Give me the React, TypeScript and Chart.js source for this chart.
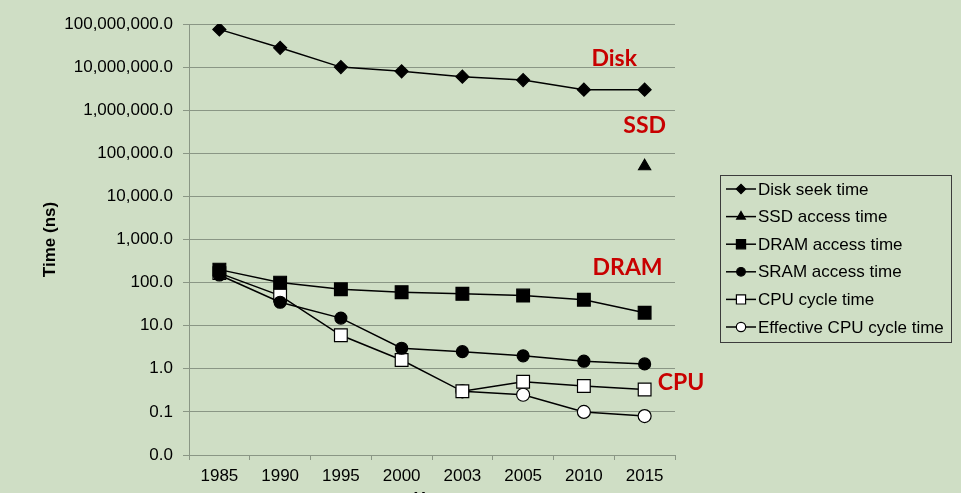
import React, { useEffect, useRef } from 'react';
import { Chart, registerables } from 'chart.js';

Chart.register(...registerables);

const years = ['1985', '1990', '1995', '2000', '2003', '2005', '2010', '2015'];
const diskSeek = [75000000, 28000000, 10000000, 8000000, 6000000, 5000000, 3000000, 3000000];
const ssdAccess = [null, null, null, null, null, null, null, 50000];
const dramAccess = [200, 100, 70, 60, 55, 50, 40, 20];
const sramAccess = [150, 35, 15, 3, 2.5, 2, 1.5, 1.3];
const cpuCycle = [166, 50, 6, 1.6, 0.3, 0.5, 0.4, 0.33];
const effCpuCycle = [null, null, null, null, 0.3, 0.25, 0.1, 0.08];
const yTicks = [0.01, 0.1, 1, 10, 100, 1000, 10000, 100000, 1000000, 10000000, 100000000];
const seriesNames = [
  'Disk seek time',
  'SSD access time',
  'DRAM access time',
  'SRAM access time',
  'CPU cycle time',
  'Effective CPU cycle time',
];
const annotationTexts = ['Disk', 'SSD', 'DRAM', 'CPU'];
const annotationX = [6.5, 7, 6.72, 7.6];
const annotationY = [16000000, 450000, 218, 0.47];

const BG = '#cfdec5';
const GRID = '#8a9685';
const FONT = '"Liberation Sans", Arial, sans-serif';
const RED = '#c80000';

function fmt(v: number): string {
  return Number(v).toLocaleString('en-US', { minimumFractionDigits: 1, maximumFractionDigits: 1 });
}

function drawMarker(ctx: CanvasRenderingContext2D, style: string, x: number, y: number, r: number, fill: string) {
  ctx.beginPath();
  if (style === 'rectRot') {
    ctx.moveTo(x - r, y);
    ctx.lineTo(x, y - r);
    ctx.lineTo(x + r, y);
    ctx.lineTo(x, y + r);
    ctx.closePath();
  } else if (style === 'triangle') {
    for (let i = 0; i < 3; i++) {
      const a = (i * 2 * Math.PI) / 3;
      const px = x + Math.sin(a) * r;
      const py = y - Math.cos(a) * r;
      if (i === 0) ctx.moveTo(px, py);
      else ctx.lineTo(px, py);
    }
    ctx.closePath();
  } else if (style === 'rect') {
    const s = Math.SQRT1_2 * r;
    ctx.rect(x - s, y - s, 2 * s, 2 * s);
  } else {
    ctx.arc(x, y, r, 0, Math.PI * 2);
  }
  ctx.fillStyle = fill;
  ctx.fill();
  ctx.lineWidth = 1.2;
  ctx.strokeStyle = '#000';
  ctx.stroke();
}

const decor = {
  id: 'decor',
  afterDraw(chart: any) {
    const { ctx, chartArea, scales } = chart;
    // Y title
    ctx.save();
    ctx.font = `bold 17px ${FONT}`;
    ctx.fillStyle = '#000';
    ctx.textAlign = 'center';
    ctx.textBaseline = 'middle';
    ctx.translate(50, (chartArea.top + chartArea.bottom) / 2);
    ctx.rotate(-Math.PI / 2);
    ctx.fillText('Time (ns)', 0, 0);
    ctx.restore();

    // X title (partially cut off at the bottom)
    ctx.save();
    ctx.font = `bold 17px ${FONT}`;
    ctx.fillStyle = '#000';
    ctx.textAlign = 'center';
    ctx.textBaseline = 'top';
    ctx.fillText('Year', (chartArea.left + chartArea.right) / 2, 491);
    ctx.restore();

    // Annotations
    ctx.save();
    ctx.font = `bold 23px Lato, "Open Sans", sans-serif`;
    ctx.fillStyle = RED;
    ctx.textAlign = 'center';
    ctx.textBaseline = 'middle';
    annotationTexts.forEach((t, i) => {
      const x = scales.x.getPixelForValue(annotationX[i]);
      const y = scales.y.getPixelForValue(annotationY[i]);
      ctx.fillText(t, x, y);
    });
    ctx.restore();

    // Legend
    ctx.save();
    const lx = 720, ly = 175, lw = 231, lh = 167;
    ctx.strokeStyle = '#3c3c3c';
    ctx.lineWidth = 1;
    ctx.strokeRect(lx + 0.5, ly + 0.5, lw, lh);
    ctx.font = `17px ${FONT}`;
    ctx.textAlign = 'left';
    ctx.textBaseline = 'middle';
    chart.data.datasets.forEach((ds: any, i: number) => {
      const y = ly + 14 + i * 27.6;
      ctx.beginPath();
      ctx.moveTo(726, y);
      ctx.lineTo(756, y);
      ctx.strokeStyle = '#000';
      ctx.lineWidth = 1.5;
      ctx.stroke();
      drawMarker(ctx, ds.pointStyle, 741, y, ds.pointRadius * 0.72, ds.pointBackgroundColor);
      ctx.fillStyle = '#000';
      ctx.fillText(ds.label, 758, y + 1);
    });
    ctx.restore();
  },
};

export default function App() {
  const ref = useRef<HTMLCanvasElement>(null);
  useEffect(() => {
    document.body.style.margin = '0';
    document.body.style.background = BG;
    document.body.style.overflow = 'hidden';
    const mk = (label: string, data: any[], style: string, r: number, fill: string) => ({
      label,
      data,
      borderColor: '#000',
      borderWidth: 1.5,
      pointStyle: style,
      pointRadius: r,
      pointBackgroundColor: fill,
      pointBorderColor: '#000',
      pointBorderWidth: 1.2,
      fill: false,
      tension: 0,
    });
    const chart = new Chart(ref.current!, {
      type: 'line',
      data: {
        labels: years,
        datasets: [
          mk(seriesNames[0], diskSeek, 'rectRot', 6.5, '#000'),
          mk(seriesNames[1], ssdAccess, 'triangle', 7, '#000'),
          mk(seriesNames[2], dramAccess, 'rect', 9, '#000'),
          mk(seriesNames[3], sramAccess, 'circle', 6, '#000'),
          mk(seriesNames[4], cpuCycle, 'rect', 9, '#fff'),
          mk(seriesNames[5], effCpuCycle, 'circle', 6.5, '#fff'),
        ] as any,
      },
      options: {
        animation: false,
        responsive: false,
        devicePixelRatio: 1,
        layout: { padding: { left: 0, right: 286, top: 24, bottom: 0 } },
        plugins: { legend: { display: false }, tooltip: { enabled: false } },
        scales: {
          x: {
            type: 'category',
            offset: true,
            grid: { offset: true, drawOnChartArea: false, drawTicks: true, tickLength: 5, color: GRID },
            border: { color: GRID, width: 1 },
            ticks: { color: '#000', font: { size: 17, family: FONT }, padding: 6, maxRotation: 0, autoSkip: false },
            afterFit: (s: any) => {
              s.height = 38;
            },
          },
          y: {
            type: 'logarithmic',
            min: 0.01,
            max: 100000000,
            afterBuildTicks: (s: any) => {
              s.ticks = yTicks.map((v) => ({ value: v }));
            },
            grid: { color: GRID, tickLength: 6 },
            border: { color: GRID, width: 1 },
            ticks: {
              color: '#000',
              font: { size: 17, family: FONT },
              padding: 10,
              autoSkip: false,
              callback: (v: any) => fmt(v),
            },
            afterFit: (s: any) => {
              s.width = 189;
            },
          },
        },
      } as any,
      plugins: [decor],
    });
    return () => chart.destroy();
  }, []);
  return (
    <div style={{ width: 961, height: 493, background: BG, overflow: 'hidden' }}>
      <canvas ref={ref} width={961} height={493} style={{ display: 'block' }} />
    </div>
  );
}
